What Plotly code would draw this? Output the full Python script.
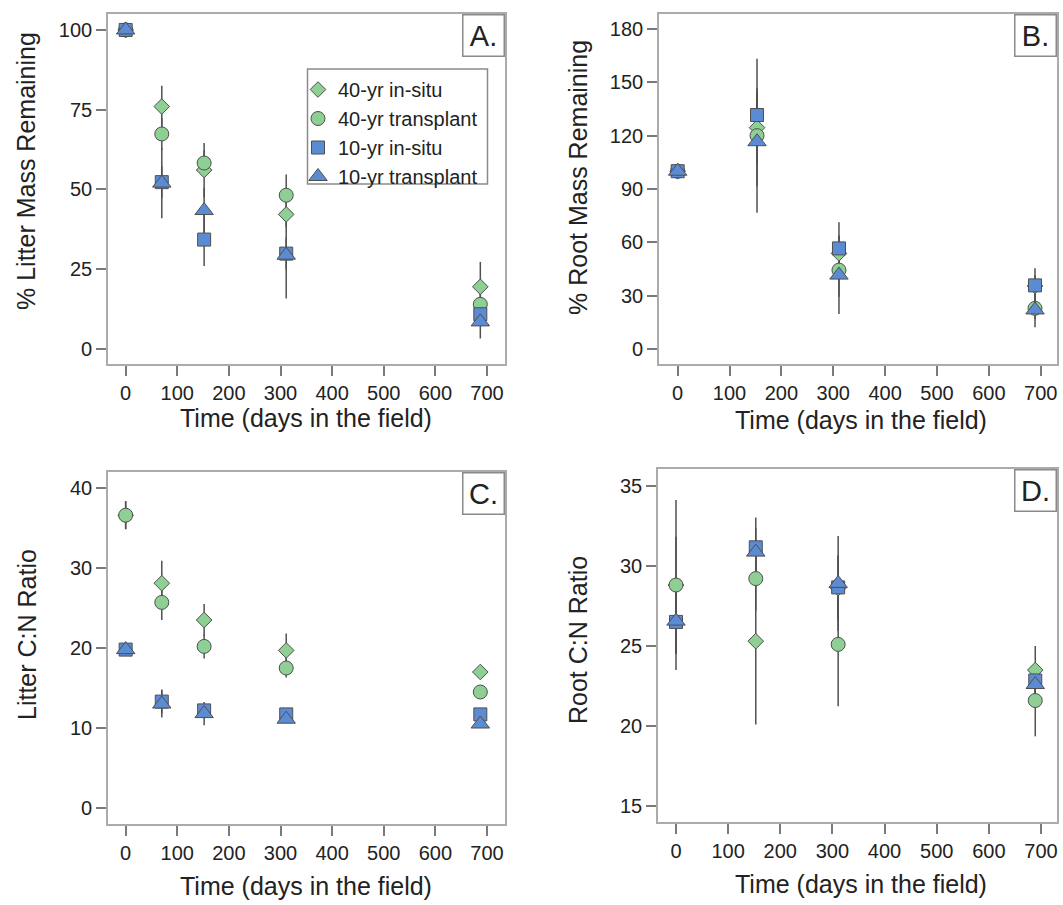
import plotly.graph_objects as go

W, H = 1063, 905

# ---- sampling times (days in the field) ----
litter_days = [0, 70, 152, 311, 687]
root_days = [0, 153, 311, 689]

series_names = ["40-yr in-situ", "40-yr transplant", "10-yr in-situ", "10-yr transplant"]

# ---- A. % litter mass remaining ----
litter_mass_40_insitu = [100, 76.0, 56.1, 42.2, 19.5]
litter_mass_40_transplant = [100, 67.4, 58.3, 48.2, 14.0]
litter_mass_10_insitu = [100, 52.3, 34.3, 29.9, 10.9]
litter_mass_10_transplant = [100, 52.0, 43.4, 29.4, 8.5]
litter_mass_40_insitu_se = [1.5, 6.5, 8.5, 4.0, 7.8]
litter_mass_40_transplant_se = [1.5, 5.0, 4.0, 6.5, 4.0]
litter_mass_10_insitu_se = [1.5, 5.0, 8.3, 5.0, 3.0]
litter_mass_10_transplant_se = [1.5, 11.0, 7.0, 13.6, 5.2]

# ---- B. % root mass remaining ----
root_mass_40_insitu = [100, 124.5, 53.8, 35.5]
root_mass_40_transplant = [100, 120.0, 44.4, 22.9]
root_mass_10_insitu = [100, 131.6, 56.6, 35.8]
root_mass_10_transplant = [100, 116.6, 41.6, 22.0]
root_mass_40_insitu_se = [1.5, 20.0, 10.0, 6.0]
root_mass_40_transplant_se = [1.5, 43.3, 15.0, 6.0]
root_mass_10_insitu_se = [1.5, 15.0, 14.7, 9.6]
root_mass_10_transplant_se = [1.5, 25.0, 21.9, 9.8]

# ---- C. litter C:N ratio ----
litter_cn_40_insitu = [36.6, 28.1, 23.5, 19.7, 17.0]
litter_cn_40_transplant = [36.6, 25.7, 20.2, 17.5, 14.5]
litter_cn_10_insitu = [19.8, 13.3, 12.2, 11.7, 11.7]
litter_cn_10_transplant = [19.8, 13.0, 11.8, 11.1, 10.5]
litter_cn_40_insitu_se = [1.75, 2.8, 2.0, 2.1, 0.5]
litter_cn_40_transplant_se = [1.75, 2.2, 1.5, 1.2, 0.5]
litter_cn_10_insitu_se = [0.4, 1.5, 0.8, 0.5, 0.5]
litter_cn_10_transplant_se = [0.4, 1.7, 1.45, 0.4, 0.3]

# ---- D. root C:N ratio ----
root_cn_40_insitu = [28.8, 25.3, 28.6, 23.5]
root_cn_40_transplant = [28.8, 29.2, 25.1, 21.6]
root_cn_10_insitu = [26.5, 31.15, 28.65, 22.85]
root_cn_10_transplant = [26.55, 30.85, 28.9, 22.6]
root_cn_40_insitu_se = [3.0, 5.2, 2.0, 1.5]
root_cn_40_transplant_se = [5.3, 2.0, 3.86, 2.23]
root_cn_10_insitu_se = [2.0, 1.85, 2.0, 1.0]
root_cn_10_transplant_se = [2.0, 1.5, 2.95, 1.0]

# ---- styling ----
GREEN = "#8ecf94"
BLUE = "#5b8bd3"
EDGE = "#4f4f4f"
ERR = "#505050"
FRAME = "#ababab"
TICK = "#7a7a7a"
TXT = "#222222"
FONT = "Liberation Sans, Arial, Helvetica, sans-serif"

symbols = ["diamond", "circle", "square", "triangle-up"]
colors = [GREEN, GREEN, BLUE, BLUE]
sizes = [12, 14, 13, 16]


def px_x(p):
    return p / W


def px_y(p):
    return 1 - p / H


panels = [
    dict(label="A.", xa="x", ya="y", days=litter_days,
         values=[litter_mass_40_insitu, litter_mass_40_transplant,
                 litter_mass_10_insitu, litter_mass_10_transplant],
         errors=[litter_mass_40_insitu_se, litter_mass_40_transplant_se,
                 litter_mass_10_insitu_se, litter_mass_10_transplant_se],
         box=(108, 505, 14, 364), xrange=[-34.2, 734.8], yrange=[-4.7, 105.0],
         yticks=[0, 25, 50, 75, 100], ytitle="% Litter Mass Remaining",
         ytitle_pos=(26, 171), xtitle_pos=(306, 418)),
    dict(label="B.", xa="x2", ya="y2", days=root_days,
         values=[root_mass_40_insitu, root_mass_40_transplant,
                 root_mass_10_insitu, root_mass_10_transplant],
         errors=[root_mass_40_insitu_se, root_mass_40_transplant_se,
                 root_mass_10_insitu_se, root_mass_10_transplant_se],
         box=(659, 1057, 14, 364), xrange=[-36.0, 731.4], yrange=[-8.4, 188.4],
         yticks=[0, 30, 60, 90, 120, 150, 180], ytitle="% Root Mass Remaining",
         ytitle_pos=(578, 178), xtitle_pos=(861, 420)),
    dict(label="C.", xa="x3", ya="y3", days=litter_days,
         values=[litter_cn_40_insitu, litter_cn_40_transplant,
                 litter_cn_10_insitu, litter_cn_10_transplant],
         errors=[litter_cn_40_insitu_se, litter_cn_40_transplant_se,
                 litter_cn_10_insitu_se, litter_cn_10_transplant_se],
         box=(108, 505, 472, 824), xrange=[-34.2, 734.8], yrange=[-2.0, 42.0],
         yticks=[0, 10, 20, 30, 40], ytitle="Litter C:N Ratio",
         ytitle_pos=(27, 635), xtitle_pos=(306, 886)),
    dict(label="D.", xa="x4", ya="y4", days=root_days,
         values=[root_cn_40_insitu, root_cn_40_transplant,
                 root_cn_10_insitu, root_cn_10_transplant],
         errors=[root_cn_40_insitu_se, root_cn_40_transplant_se,
                 root_cn_10_insitu_se, root_cn_10_transplant_se],
         box=(658, 1057, 469, 822), xrange=[-34.5, 730.7], yrange=[14.03, 36.03],
         yticks=[15, 20, 25, 30, 35], ytitle="Root C:N Ratio",
         ytitle_pos=(578, 640), xtitle_pos=(861, 884)),
]

fig = go.Figure()

# error bars first so every marker sits on top of them
for pn in panels:
    for vals, errs in zip(pn["values"], pn["errors"]):
        fig.add_trace(go.Scatter(
            x=pn["days"], y=vals, mode="markers", xaxis=pn["xa"], yaxis=pn["ya"],
            marker=dict(size=1, color="rgba(0,0,0,0)"),
            error_y=dict(type="data", array=errs, visible=True,
                         color=ERR, thickness=1.5, width=0),
            showlegend=False, hoverinfo="skip"))

# markers
for i, pn in enumerate(panels):
    for k, vals in enumerate(pn["values"]):
        fig.add_trace(go.Scatter(
            x=pn["days"], y=vals, mode="markers", xaxis=pn["xa"], yaxis=pn["ya"],
            name=series_names[k], showlegend=(i == 0),
            marker=dict(symbol=symbols[k], size=sizes[k], color=colors[k],
                        line=dict(color=EDGE, width=1))))

axis_base = dict(showline=True, linecolor=FRAME, linewidth=1.6, mirror=True,
                 ticks="outside", ticklen=10, tickwidth=1.5, tickcolor=TICK,
                 tickfont=dict(family=FONT, size=20, color=TXT),
                 showgrid=False, zeroline=False, fixedrange=True)

layout = {}
annotations = []
for i, pn in enumerate(panels):
    sfx = "" if i == 0 else str(i + 1)
    x0, x1, y0, y1 = pn["box"]
    layout["xaxis" + sfx] = dict(
        axis_base, domain=[px_x(x0), px_x(x1)], range=pn["xrange"],
        tickvals=[0, 100, 200, 300, 400, 500, 600, 700],
        anchor=pn["ya"])
    layout["yaxis" + sfx] = dict(
        axis_base, domain=[px_y(y1), px_y(y0)], range=pn["yrange"],
        tickvals=pn["yticks"], anchor=pn["xa"])

    tx, ty = pn["ytitle_pos"]
    annotations.append(dict(
        text=pn["ytitle"], xref="paper", yref="paper", x=px_x(tx), y=px_y(ty),
        xanchor="center", yanchor="middle", textangle=-90, showarrow=False,
        font=dict(family=FONT, size=25, color=TXT)))
    tx, ty = pn["xtitle_pos"]
    annotations.append(dict(
        text="Time (days in the field)", xref="paper", yref="paper",
        x=px_x(tx), y=px_y(ty), xanchor="center", yanchor="middle",
        showarrow=False, font=dict(family=FONT, size=25, color=TXT)))
    # panel letter in a boxed corner
    annotations.append(dict(
        text=pn["label"], xref="paper", yref="paper", x=px_x(x1), y=px_y(y0),
        xanchor="right", yanchor="top", showarrow=False,
        width=38, height=38, align="center", valign="middle",
        bordercolor="#8a8a8a", borderwidth=1.5, borderpad=1, bgcolor="white",
        font=dict(family=FONT, size=29, color=TXT)))

fig.update_layout(
    width=W, height=H, margin=dict(l=0, r=0, t=0, b=0),
    paper_bgcolor="white", plot_bgcolor="white",
    font=dict(family=FONT, color=TXT),
    annotations=annotations,
    shapes=[dict(type="rect", xref="paper", yref="paper",
                 x0=px_x(307.5), x1=px_x(487.5), y0=px_y(184), y1=px_y(69),
                 line=dict(color="#8a8a8a", width=1.5), fillcolor="rgba(0,0,0,0)")],
    legend=dict(x=px_x(298), y=px_y(70), xanchor="left", yanchor="top",
                bgcolor="rgba(0,0,0,0)", borderwidth=0, itemwidth=30,
                font=dict(family=FONT, size=20, color=TXT), tracegroupgap=0),
    **layout,
)

fig.write_html("out.html")
